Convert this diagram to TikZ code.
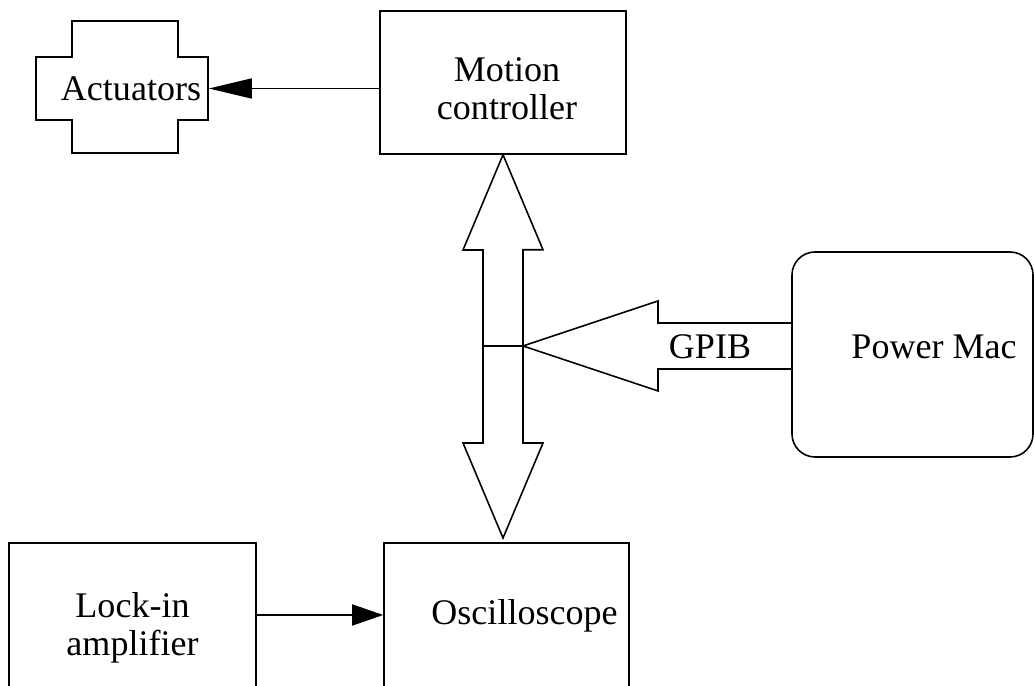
\documentclass[tikz,border=0pt]{standalone}
\usepackage{fontspec}
\setmainfont{Liberation Serif}
\usetikzlibrary{arrows.meta,calc}

\begin{document}
\begin{tikzpicture}[line width=0.9pt,
        every node/.style={font=\fontsize{20.5}{21.5}\selectfont, align=center},
        box/.style={draw, inner sep=0pt}]
    \useasboundingbox (0,0) rectangle (20.68,13.72);
    \clip (0,0) rectangle (20.68,13.72);
    % boxes
    \node[box, minimum width=4.92cm, minimum height=2.86cm,
          label={[xshift=0.8mm,yshift=-1.3mm]center:Motion\\controller}] (mc) at (10.06,12.07) {};
    \node[box, minimum width=4.94cm, minimum height=3.38cm] (lock) at (2.65,1.17) {Lock-in\\amplifier};
    \node[box, minimum width=4.9cm, minimum height=3.38cm,
          label={[xshift=3.6mm,yshift=2.3mm]center:Oscilloscope}] (osc) at (10.13,1.17) {};
    \node[box, rounded corners=0.46cm, minimum width=4.82cm, minimum height=4.1cm,
          label={[xshift=4.3mm,yshift=1.5mm]center:Power Mac}] (pm) at (18.25,6.63) {};
    % actuators
    \draw (1.44,13.3) -| (3.56,12.58) -| (4.16,11.32) -| (3.56,10.66) -| (1.44,11.32)
          -| (0.72,12.58) -| (1.44,13.3) -- cycle;
    \node[minimum width=3.44cm, minimum height=1.26cm, inner sep=0pt,
          label={[xshift=1.8mm]center:Actuators}] (act) at (2.44,11.95) {};
    \draw[-{Triangle[length=8.6mm,width=4mm]}] (mc.west |- act.east) -- (act.east);
    % bus
    \draw (mc.south) -- ++(0.8,-1.9) -- ++(-0.4,0) -- (10.46,4.86) -- ++(0.4,0)
          -- (10.06,2.96) -- ++(-0.8,1.9) -- ++(0.4,0) -- (9.66,8.72) -- ++(-0.4,0) -- cycle;
    \coordinate (tip) at (10.46,6.8);
    \draw (9.66,6.8) -- (tip);
    \draw ($(pm.west)+(0,0.63)$) -- (13.16,7.26) -- (13.16,7.7) -- (tip)
          -- (13.16,5.9) -- (13.16,6.34) -- ($(pm.west)+(0,-0.29)$);
    \node (gpib) at (14.2,6.78) {GPIB};
    % signal
    \coordinate (lockout) at ($(lock.east)+(0,0.25)$);
    \draw[-{Triangle[length=6.2mm,width=4.2mm]}] (lockout) -- (lockout -| osc.west);
\end{tikzpicture}
\end{document}
